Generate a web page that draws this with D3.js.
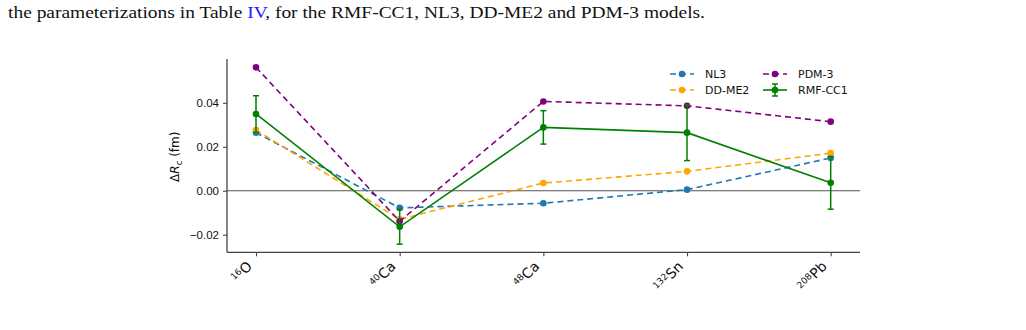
<!DOCTYPE html>
<html>
<head>
<meta charset="utf-8">
<script src="https://cdn.jsdelivr.net/npm/d3@7"></script>
<style>
  body { margin: 0; background: #fff; }
  svg { display: block; font-family: "DejaVu Sans", sans-serif; }
</style>
</head>
<body>
<div id="chart"></div>
<script>
// nuclei on the x axis (mass number, symbol)
const nuclei = [["16", "O"], ["40", "Ca"], ["48", "Ca"], ["132", "Sn"], ["208", "Pb"]];
const yTicks = [-0.02, 0.0, 0.02, 0.04];

const nl3 = [0.0264, -0.0078, -0.0057, 0.0005, 0.0149];
const ddme2 = [0.0276, -0.0130, 0.0035, 0.0088, 0.0171];
const pdm3 = [0.0561, -0.0139, 0.0406, 0.0386, 0.0314];
const rmfcc1 = [0.0349, -0.0164, 0.0288, 0.0264, 0.0036];
const rmfcc1Err = [0.0083, 0.0079, 0.0076, 0.0127, 0.0120];

const width = 1026, height = 330;
const margin = { top: 59, right: 166, bottom: 78, left: 227 };

const svg = d3.select("#chart").append("svg")
  .attr("width", width).attr("height", height);

// caption fragment at the top
svg.append("text")
  .attr("x", 8).attr("y", 18)
  .attr("font-family", "Liberation Serif, serif")
  .attr("font-size", 17)
  .attr("textLength", 697)
  .attr("lengthAdjust", "spacingAndGlyphs")
  .attr("fill", "#111")
  .html('the parameterizations in Table <tspan fill="#2020ff">IV</tspan>, for the RMF-CC1, NL3, DD-ME2 and PDM-3 models.');

const x = d3.scalePoint()
  .domain(d3.range(nuclei.length))
  .range([256, 830.7]);

const y = d3.scaleLinear()
  .domain([-0.028, 0.0599])
  .range([height - margin.bottom + 0.3, margin.top]);

const x0 = margin.left, x1 = 860;
const g = svg.append("g");

// zero line
g.append("line")
  .attr("x1", x0).attr("x2", x1)
  .attr("y1", y(0)).attr("y2", y(0))
  .attr("stroke", "#555").attr("stroke-width", 1.2);

// y axis
const yAxis = g.append("g")
  .attr("transform", `translate(${x0},0)`)
  .call(d3.axisLeft(y).tickValues(yTicks).tickSize(4).tickPadding(4)
    .tickFormat(d => (d < 0 ? "\u2212" : "") + Math.abs(d).toFixed(2)));
yAxis.select(".domain").attr("stroke", "#444").attr("stroke-width", 1.3)
  .attr("d", `M0,${y.range()[0]}V${y.range()[1]}`);
yAxis.selectAll(".tick line").attr("stroke", "#444").attr("stroke-width", 1.1);
yAxis.selectAll(".tick text").attr("font-size", 11.5).attr("fill", "#111");

// x axis
const xAxisY = y.range()[0];
const xAxis = g.append("g")
  .attr("transform", `translate(0,${xAxisY})`)
  .call(d3.axisBottom(x).tickSize(4).tickFormat(""));
xAxis.select(".domain").attr("stroke", "#444").attr("stroke-width", 1.3)
  .attr("d", `M${x0},0H${x1}`);
xAxis.selectAll(".tick line").attr("stroke", "#444").attr("stroke-width", 1.1);

// rotated nucleus labels
nuclei.forEach((n, i) => {
  const t = g.append("text")
    .attr("transform", `translate(${x(i) - 3},${xAxisY + 15}) rotate(-45)`)
    .attr("text-anchor", "end")
    .attr("fill", "#111");
  t.append("tspan").attr("font-size", 9).attr("dy", -4).text(n[0]);
  t.append("tspan").attr("font-size", 14).attr("dy", 4).text(n[1]);
});

// y label
const yl = g.append("text")
  .attr("transform", `translate(179,${(y(0.04) + y(-0.02)) / 2 - 12}) rotate(-90)`)
  .attr("text-anchor", "middle")
  .attr("font-size", 12).attr("fill", "#111");
yl.append("tspan").text("\u0394");
yl.append("tspan").attr("font-style", "italic").text("R");
yl.append("tspan").attr("font-size", 8.5).attr("dy", 3).text("c");
yl.append("tspan").attr("dy", -3).text(" (fm)");

const line = d3.line().x((d, i) => x(i)).y(d => y(d));

const series = [
  { name: "NL3", values: nl3, color: "#1f77b4", dash: "6,4" },
  { name: "DD-ME2", values: ddme2, color: "orange", dash: "6,4" },
  { name: "PDM-3", values: pdm3, color: "purple", dash: "6,4" }
];

series.forEach(s => {
  g.append("path").datum(s.values)
    .attr("d", line).attr("fill", "none")
    .attr("stroke", s.color).attr("stroke-width", 1.6)
    .attr("stroke-dasharray", s.dash);
  g.selectAll(null).data(s.values).enter().append("circle")
    .attr("cx", (d, i) => x(i)).attr("cy", d => y(d))
    .attr("r", 3.3).attr("fill", s.color);
});

// RMF-CC1 with error bars
const green = "green";
rmfcc1.forEach((d, i) => {
  const e = rmfcc1Err[i];
  g.append("line").attr("x1", x(i)).attr("x2", x(i))
    .attr("y1", y(d - e)).attr("y2", y(d + e))
    .attr("stroke", green).attr("stroke-width", 1.5);
  [d - e, d + e].forEach(v => {
    g.append("line").attr("x1", x(i) - 3).attr("x2", x(i) + 3)
      .attr("y1", y(v)).attr("y2", y(v))
      .attr("stroke", green).attr("stroke-width", 1.5);
  });
});
g.append("path").datum(rmfcc1)
  .attr("d", line).attr("fill", "none")
  .attr("stroke", green).attr("stroke-width", 1.6);
g.selectAll(null).data(rmfcc1).enter().append("circle")
  .attr("cx", (d, i) => x(i)).attr("cy", d => y(d))
  .attr("r", 3.3).attr("fill", green);

// legend
const legendItems = [
  { name: "NL3", color: "#1f77b4", dashed: true, col: 0, row: 0 },
  { name: "DD-ME2", color: "orange", dashed: true, col: 0, row: 1 },
  { name: "PDM-3", color: "purple", dashed: true, col: 1, row: 0 },
  { name: "RMF-CC1", color: green, dashed: false, col: 1, row: 1 }
];
const lg = g.append("g");
legendItems.forEach(it => {
  const lx = it.col === 0 ? 670 : 763;
  const ly = it.row === 0 ? 74 : 90;
  lg.append("line").attr("x1", lx).attr("x2", lx + 24)
    .attr("y1", ly).attr("y2", ly)
    .attr("stroke", it.color).attr("stroke-width", 1.6)
    .attr("stroke-dasharray", it.dashed ? "6,4" : null);
  lg.append("circle").attr("cx", lx + 12).attr("cy", ly).attr("r", 3.3).attr("fill", it.color);
  if (!it.dashed) {
    lg.append("line").attr("x1", lx + 12).attr("x2", lx + 12)
      .attr("y1", ly - 6).attr("y2", ly + 6)
      .attr("stroke", it.color).attr("stroke-width", 1.5);
    [-6, 6].forEach(o => lg.append("line").attr("x1", lx + 9).attr("x2", lx + 15)
      .attr("y1", ly + o).attr("y2", ly + o).attr("stroke", it.color).attr("stroke-width", 1.5));
  }
  lg.append("text").attr("x", lx + 35).attr("y", ly + 4)
    .attr("font-size", 11).attr("fill", "#111").text(it.name);
});
</script>
</body>
</html>
